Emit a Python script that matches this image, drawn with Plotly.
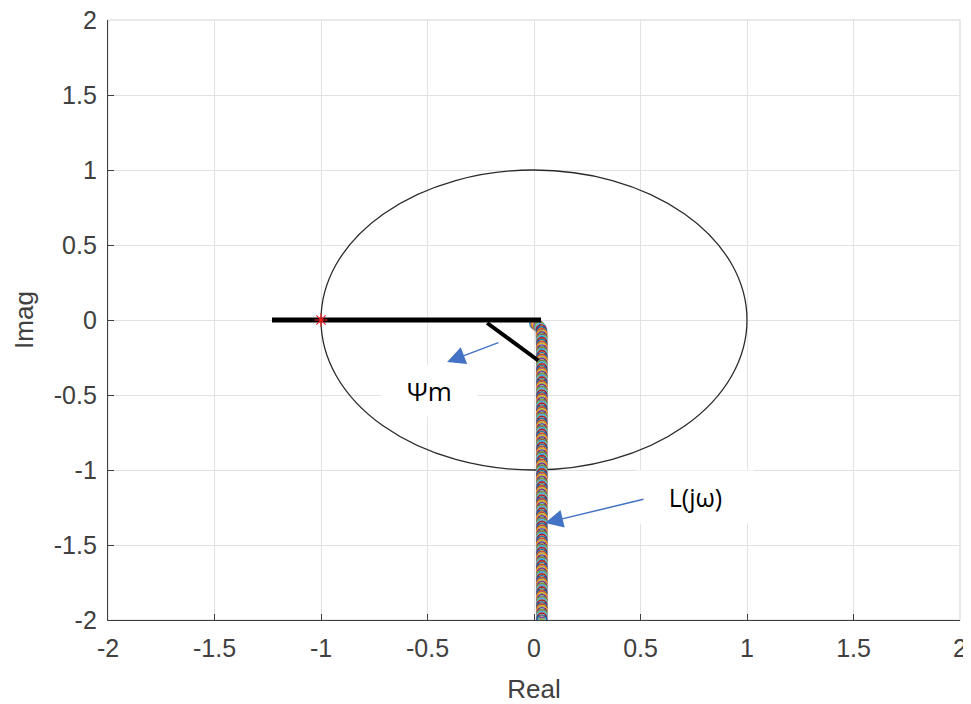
import plotly.graph_objects as go

# ---- data ----
tick_vals = [-2, -1.5, -1, -0.5, 0, 0.5, 1, 1.5, 2]
tick_text = ["-2", "-1.5", "-1", "-0.5", "0", "0.5", "1", "1.5", "2"]

unit_circle_radius = 1.0
critical_point_re = [-1.0]
critical_point_im = [0.0]

# thick black reference lines (negative real axis segment and margin line)
ref_line_re = [-1.23, 0.033]
ref_line_im = [0.0, 0.0]
psi_line_re = [-0.22, 0.02]
psi_line_im = [-0.02, -0.27]

# L(jw) Nyquist locus
L_im = [-0.025, -0.028, -0.032, -0.038, -0.045, -0.055, -0.065, -0.078, -0.09, -0.10,
        -0.1125, -0.125, -0.1375, -0.15, -0.1625, -0.175, -0.1875, -0.20, -0.2125, -0.225,
        -0.2375, -0.25, -0.2625, -0.275, -0.2875, -0.30, -0.3125, -0.325, -0.3375, -0.35,
        -0.3625, -0.375, -0.3875, -0.40, -0.4125, -0.425, -0.4375, -0.45, -0.4625, -0.475,
        -0.4875, -0.50, -0.5125, -0.525, -0.5375, -0.55, -0.5625, -0.575, -0.5875, -0.60,
        -0.6125, -0.625, -0.6375, -0.65, -0.6625, -0.675, -0.6875, -0.70, -0.7125, -0.725,
        -0.7375, -0.75, -0.7625, -0.775, -0.7875, -0.80, -0.8125, -0.825, -0.8375, -0.85,
        -0.8625, -0.875, -0.8875, -0.90, -0.9125, -0.925, -0.9375, -0.95, -0.9625, -0.975,
        -0.9875, -1.00, -1.0125, -1.025, -1.0375, -1.05, -1.0625, -1.075, -1.0875, -1.10,
        -1.1125, -1.125, -1.1375, -1.15, -1.1625, -1.175, -1.1875, -1.20, -1.2125, -1.225,
        -1.2375, -1.25, -1.2625, -1.275, -1.2875, -1.30, -1.3125, -1.325, -1.3375, -1.35,
        -1.3625, -1.375, -1.3875, -1.40, -1.4125, -1.425, -1.4375, -1.45, -1.4625, -1.475,
        -1.4875, -1.50, -1.5125, -1.525, -1.5375, -1.55, -1.5625, -1.575, -1.5875, -1.60,
        -1.6125, -1.625, -1.6375, -1.65, -1.6625, -1.675, -1.6875, -1.70, -1.7125, -1.725,
        -1.7375, -1.75, -1.7625, -1.775, -1.7875, -1.80, -1.8125, -1.825, -1.8375, -1.85,
        -1.8625, -1.875, -1.8875, -1.90, -1.9125, -1.925, -1.9375, -1.95, -1.9625, -1.975,
        -1.9875, -2.00]
L_re = [0.004, 0.010, 0.016, 0.022, 0.027, 0.031, 0.034, 0.036, 0.037] + [0.037] * (len(L_im) - 9)

psi_label = "Ψm"
psi_label_pos = (-0.49, -0.47)
psi_arrow_tail = (-0.16, -0.147)
psi_arrow_head = (-0.408, -0.28)

L_label = "L(jω)"
L_label_pos = (0.76, -1.18)
L_arrow_tail = (0.521, -1.193)
L_arrow_head = (0.052, -1.353)

palette = ["#0072BD", "#D95319", "#EDB120", "#7E2F8E", "#77AC30", "#4DBEEE", "#A2142F"]

# ---- figure ----
fig = go.Figure()

fig.add_shape(type="circle", xref="x", yref="y",
              x0=-unit_circle_radius, x1=unit_circle_radius,
              y0=-unit_circle_radius, y1=unit_circle_radius,
              line=dict(color="#2a2a2a", width=1.3), layer="between")

fig.add_trace(go.Scatter(
    x=L_re, y=L_im, mode="lines",
    line=dict(color="#8c7f86", width=12),
    hoverinfo="skip", showlegend=False, opacity=0.6))
fig.add_trace(go.Scatter(
    x=L_re, y=L_im, mode="markers",
    marker=dict(symbol="circle-open", size=10,
                color=[palette[i % len(palette)] for i in range(len(L_re))],
                line=dict(width=1.2)),
    hoverinfo="skip", showlegend=False))

fig.add_trace(go.Scatter(x=ref_line_re, y=ref_line_im, mode="lines",
                         line=dict(color="black", width=5), showlegend=False))
fig.add_trace(go.Scatter(x=psi_line_re, y=psi_line_im, mode="lines",
                         line=dict(color="black", width=4), showlegend=False))

fig.add_trace(go.Scatter(x=critical_point_re, y=critical_point_im, mode="markers",
                         marker=dict(symbol="asterisk-open", size=11, color="#ff2020",
                                     line=dict(color="#ff2020", width=1.2)),
                         showlegend=False))

# light border on top/right (grid edges)
fig.add_shape(type="rect", xref="paper", yref="paper", x0=0, x1=1, y0=0, y1=1,
              line=dict(color="#e2e2e2", width=1.5), layer="below")

# text boxes
fig.add_annotation(x=psi_label_pos[0], y=psi_label_pos[1], xref="x", yref="y",
                   text=psi_label, showarrow=False, bgcolor="white",
                   width=95, height=50, borderpad=0,
                   font=dict(family="Open Sans", size=26, color="black"))
fig.add_annotation(x=L_label_pos[0], y=L_label_pos[1], xref="x", yref="y",
                   text=L_label, showarrow=False, bgcolor="white",
                   width=117, height=52, borderpad=0,
                   font=dict(family="Open Sans", size=25, color="black"))

# arrows
for tail, head in [(psi_arrow_tail, psi_arrow_head), (L_arrow_tail, L_arrow_head)]:
    fig.add_annotation(x=head[0], y=head[1], ax=tail[0], ay=tail[1],
                       xref="x", yref="y", axref="x", ayref="y",
                       text="", showarrow=True, arrowhead=2, arrowsize=2.4,
                       arrowwidth=1.5, arrowcolor="#4472C4")

axis_common = dict(
    range=[-2, 2], tickvals=tick_vals, ticktext=tick_text,
    showgrid=True, gridcolor="#e2e2e2", gridwidth=1, zeroline=False,
    showline=True, linecolor="#404040", linewidth=1.3,
    ticks="inside", ticklen=6, tickcolor="#404040", tickwidth=1.3,
    tickfont=dict(family="Liberation Sans", size=25, color="#404040"),
    automargin=False, ticklabeloverflow="allow",
)

fig.update_xaxes(**axis_common, ticklabelstandoff=6,
                 title=dict(text="Real", standoff=20,
                            font=dict(family="Liberation Sans", size=26, color="#404040")))
fig.update_yaxes(**axis_common, ticklabelstandoff=5,
                 title=dict(text="Imag", standoff=12,
                            font=dict(family="Liberation Sans", size=26, color="#404040")))

fig.update_layout(
    width=963, height=696,
    margin=dict(l=100, r=11, t=12, b=84),
    paper_bgcolor="white", plot_bgcolor="white",
    showlegend=False,
)

fig.write_html("out.html")
